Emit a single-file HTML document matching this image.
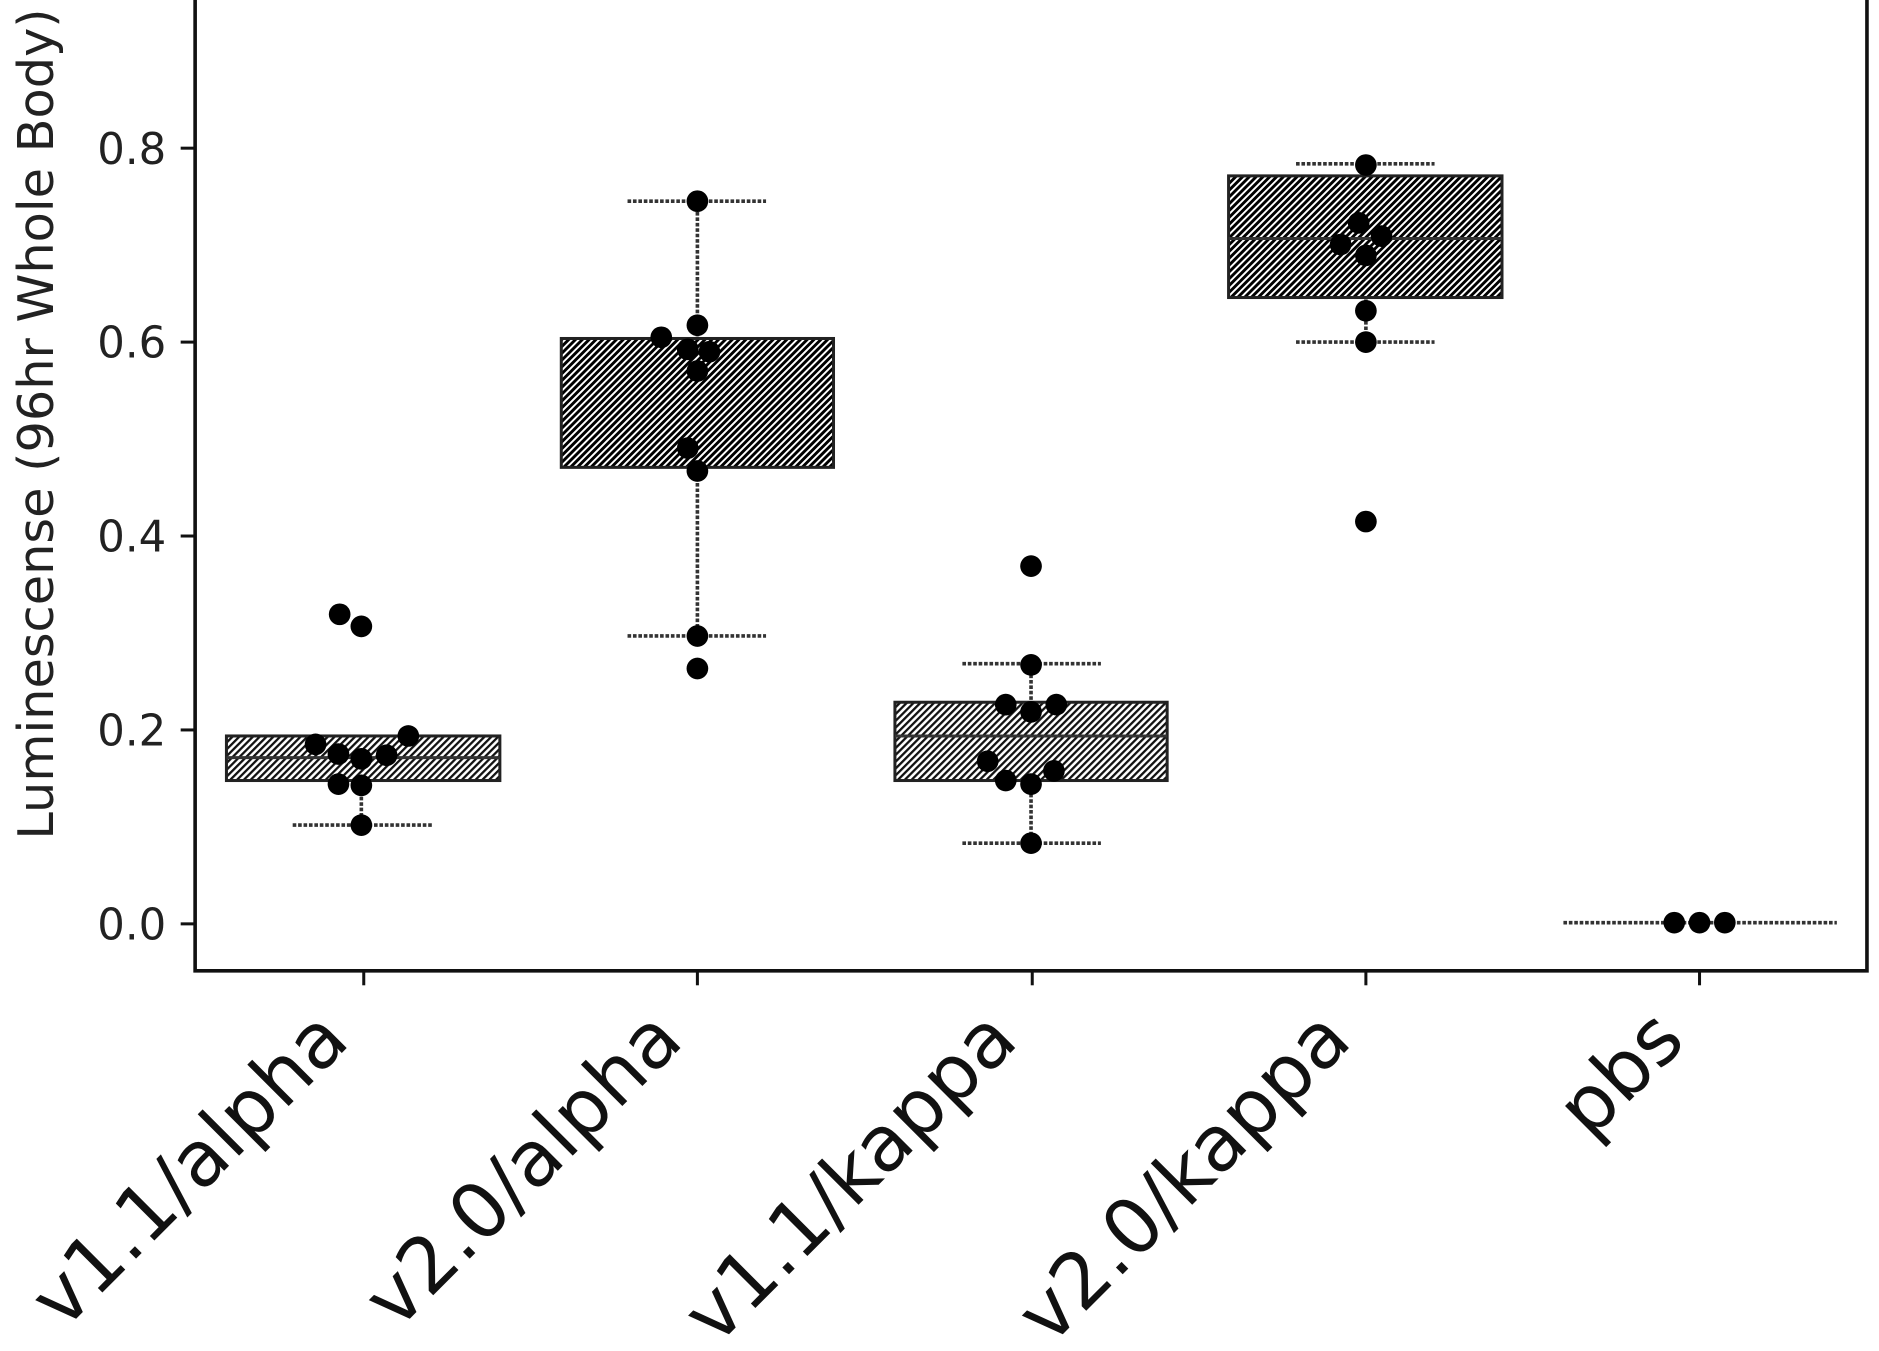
<!DOCTYPE html>
<html><head><meta charset="utf-8"><style>html,body{margin:0;padding:0;background:#fff}svg{display:block}</style></head>
<body>
<svg width="1879" height="1351" viewBox="0 0 1560 1121.6" xmlns="http://www.w3.org/2000/svg" font-family="DejaVu Sans, Liberation Sans, sans-serif">
<defs>
<pattern id="h" patternUnits="userSpaceOnUse" width="4" height="4" patternTransform="rotate(45)">
<rect width="4" height="4" fill="#fff"/><rect width="2.4" height="4" fill="#000"/>
</pattern>
<pattern id="h2" patternUnits="userSpaceOnUse" width="4" height="4" patternTransform="rotate(45)">
<rect width="4" height="4" fill="#fff"/><rect width="1.9" height="4" fill="#111"/>
</pattern>
</defs>
<rect width="1560" height="1121.6" fill="#fff"/>
<path d="M162,0 V806 H1550 V0" fill="none" stroke="#111" stroke-width="3"/>
<g stroke="#111" stroke-width="2.5">
<line x1="150" y1="767" x2="162" y2="767"/><line x1="150" y1="606" x2="162" y2="606"/><line x1="150" y1="445" x2="162" y2="445"/><line x1="150" y1="284" x2="162" y2="284"/><line x1="150" y1="123" x2="162" y2="123"/>
<line x1="302" y1="806" x2="302" y2="818"/><line x1="579" y1="806" x2="579" y2="818"/><line x1="857" y1="806" x2="857" y2="818"/><line x1="1134" y1="806" x2="1134" y2="818"/><line x1="1411" y1="806" x2="1411" y2="818"/>
</g>
<g font-size="36" fill="#222" text-anchor="end">
<text x="138" y="780">0.0</text><text x="138" y="619">0.2</text><text x="138" y="458">0.4</text><text x="138" y="297">0.6</text><text x="138" y="136">0.8</text>
</g>
<text transform="translate(44,352) rotate(-90)" font-size="41" fill="#222" text-anchor="middle">Luminescense (96hr Whole Body)</text>
<g font-size="64" fill="#111" text-anchor="end">
<text transform="translate(292,866) rotate(-45)">v1.1/alpha</text>
<text transform="translate(569,866) rotate(-45)">v2.0/alpha</text>
<text transform="translate(847,866) rotate(-45)">v1.1/kappa</text>
<text transform="translate(1124,866) rotate(-45)">v2.0/kappa</text>
<text transform="translate(1401,866) rotate(-45)">pbs</text>
</g>
<g stroke="#333" stroke-width="3" stroke-dasharray="3 1.5">
<line x1="300" y1="648" x2="300" y2="685"/><line x1="243" y1="685" x2="360" y2="685"/>
<line x1="579" y1="167" x2="579" y2="528"/><line x1="521" y1="167" x2="636" y2="167"/><line x1="521" y1="528" x2="636" y2="528"/>
<line x1="856" y1="551" x2="856" y2="700"/><line x1="799" y1="551" x2="914" y2="551"/><line x1="799" y1="700" x2="914" y2="700"/>
<line x1="1134" y1="136" x2="1134" y2="284"/><line x1="1076" y1="136" x2="1191" y2="136"/><line x1="1076" y1="284" x2="1191" y2="284"/>
<line x1="1298" y1="766" x2="1525" y2="766"/>
</g>
<g stroke="#222" stroke-width="2.5">
<rect x="188" y="611" width="227" height="37" fill="url(#h2)"/>
<rect x="466" y="281" width="226" height="107" fill="url(#h)"/>
<rect x="743" y="583" width="226" height="65" fill="url(#h2)"/>
<rect x="1020" y="146" width="227" height="101" fill="url(#h)"/>
</g>
<g stroke="#333" stroke-width="2.5">
<line x1="188" y1="629" x2="415" y2="629"/><line x1="743" y1="611" x2="969" y2="611"/><line x1="1020" y1="198" x2="1247" y2="198"/>
</g>
<g fill="#000">
<circle cx="262" cy="618" r="9"/><circle cx="281" cy="626" r="9"/><circle cx="300" cy="630" r="9"/><circle cx="321" cy="627" r="9"/><circle cx="339" cy="611" r="9"/><circle cx="281" cy="651" r="9"/><circle cx="300" cy="652" r="9"/><circle cx="300" cy="685" r="9"/><circle cx="282" cy="510" r="9"/><circle cx="300" cy="520" r="9"/>
<circle cx="579" cy="167" r="9"/><circle cx="549" cy="280" r="9"/><circle cx="579" cy="270" r="9"/><circle cx="571" cy="290" r="9"/><circle cx="589" cy="292" r="9"/><circle cx="579" cy="308" r="9"/><circle cx="571" cy="372" r="9"/><circle cx="579" cy="391" r="9"/><circle cx="579" cy="528" r="9"/><circle cx="579" cy="555" r="9"/>
<circle cx="856" cy="470" r="9"/><circle cx="856" cy="552" r="9"/><circle cx="835" cy="585" r="9"/><circle cx="856" cy="591" r="9"/><circle cx="877" cy="585" r="9"/><circle cx="820" cy="632" r="9"/><circle cx="835" cy="648" r="9"/><circle cx="856" cy="651" r="9"/><circle cx="875" cy="640" r="9"/><circle cx="856" cy="700" r="9"/>
<circle cx="1134" cy="137" r="9"/><circle cx="1128" cy="185" r="9"/><circle cx="1113" cy="203" r="9"/><circle cx="1147" cy="196" r="9"/><circle cx="1134" cy="212" r="9"/><circle cx="1134" cy="258" r="9"/><circle cx="1134" cy="284" r="9"/><circle cx="1134" cy="433" r="9"/>
<circle cx="1390" cy="766" r="9"/><circle cx="1411" cy="766" r="9"/><circle cx="1432" cy="766" r="9"/>
</g>
</svg>
</body></html>
